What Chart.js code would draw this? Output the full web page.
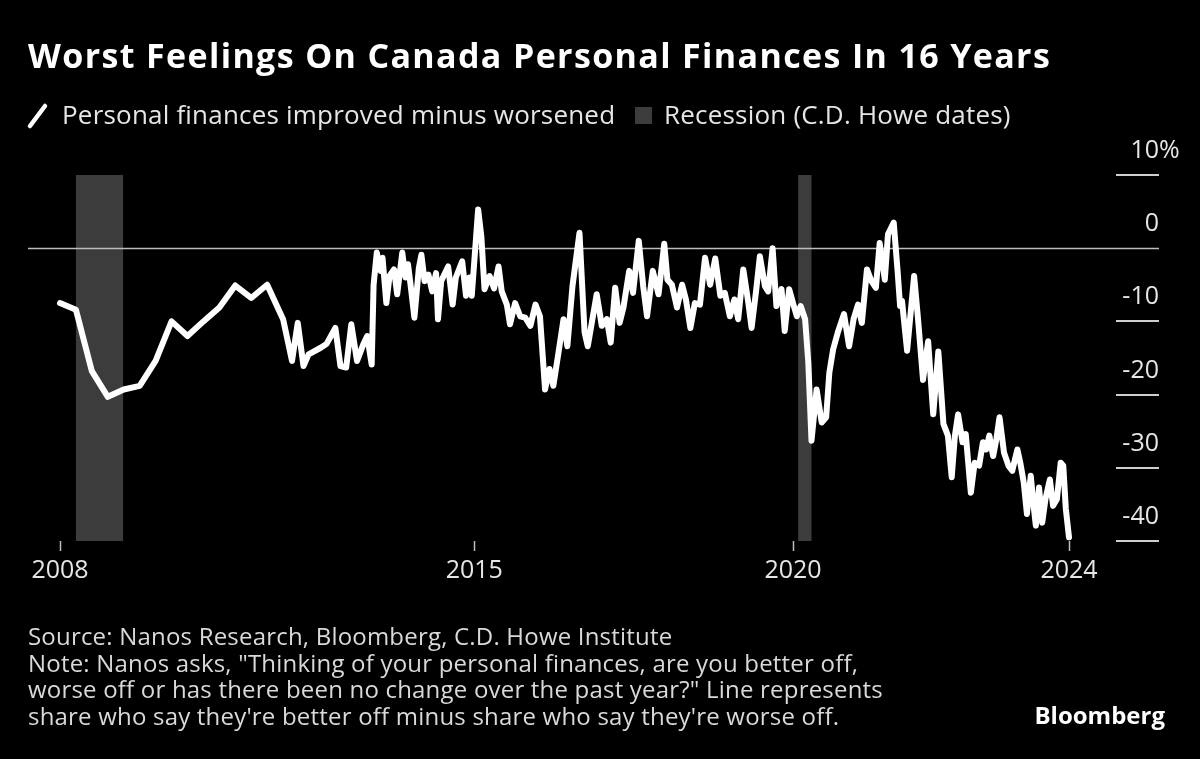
<!DOCTYPE html>
<html>
<head>
<meta charset="utf-8">
<script src="https://cdn.jsdelivr.net/npm/chart.js@4.4.0/dist/chart.umd.min.js"></script>
<style>
  html, body { margin: 0; padding: 0; background: #000; }
  body { width: 1200px; height: 759px; position: relative; overflow: hidden; font-family: "Open Sans", sans-serif; }
  #chart { position: absolute; left: 0; top: 0; }
  .abs { position: absolute; white-space: nowrap; }
  #title { left: 28px; top: 38px; font-size: 34px; line-height: 34px; font-weight: 700; color: #fff; }
  .legend { top: 101px; font-size: 26px; line-height: 26px; letter-spacing: 0.2px; color: #e6e6e6; }
  #swatch { left: 635px; top: 107px; width: 17px; height: 17px; background: #3c3c3c; }
  #footer { left: 28px; top: 623px; font-size: 24px; line-height: 26.7px; letter-spacing: 0.2px; color: #d9d9d9; }
  #brand { right: 35px; top: 703px; font-size: 24px; line-height: 24px; font-weight: 700; color: #fff; }
</style>
</head>
<body>
<canvas id="chart" width="1200" height="759"></canvas>
<div id="title" class="abs">Worst Feelings On Canada Personal Finances In 16 Years</div>
<svg class="abs" style="left:26px;top:102px" width="24" height="28"><line x1="4" y1="24" x2="19" y2="4" stroke="#fff" stroke-width="4.5" stroke-linecap="round"/></svg>
<div class="abs legend" style="left:62px">Personal finances improved minus worsened</div>
<div id="swatch" class="abs"></div>
<div class="abs legend" style="left:664px">Recession (C.D. Howe dates)</div>
<div id="footer" class="abs">Source: Nanos Research, Bloomberg, C.D. Howe Institute<br>Note: Nanos asks, "Thinking of your personal finances, are you better off,<br>worse off or has there been no change over the past year?" Line represents<br>share who say they're better off minus share who say they're worse off.</div>
<div id="brand" class="abs">Bloomberg</div>

<script>
// decimal years (early data is quarterly, later samples)
const dates = [
  2008.5, 2008.75, 2009.0, 2009.25, 2009.5, 2009.75, 2010.0, 2010.25, 2010.5, 2010.75, 2011.0, 2011.25, 2011.5, 2011.75, 2012.0,
  2012.14, 2012.23, 2012.32, 2012.40, 2012.59, 2012.68, 2012.82, 2012.90, 2012.99, 2013.07, 2013.16, 2013.26, 2013.32, 2013.39,
  2013.42, 2013.47, 2013.53, 2013.56, 2013.62, 2013.67, 2013.74, 2013.79, 2013.87, 2013.92, 2013.96,
  2014.00, 2014.06, 2014.13, 2014.17, 2014.22, 2014.28, 2014.34, 2014.40, 2014.43, 2014.48, 2014.59, 2014.66, 2014.71,
  2014.81, 2014.87, 2014.92, 2014.96,
  2015.06, 2015.11, 2015.16, 2015.24, 2015.31, 2015.38, 2015.43, 2015.51, 2015.56, 2015.64, 2015.72, 2015.80, 2015.88, 2015.96,
  2016.03, 2016.11, 2016.18, 2016.24, 2016.32, 2016.40, 2016.46, 2016.54, 2016.65, 2016.73, 2016.78, 2016.92,
  2017.00, 2017.08, 2017.14, 2017.21, 2017.28, 2017.34, 2017.43, 2017.49, 2017.58, 2017.65, 2017.71, 2017.80, 2017.89, 2017.98,
  2018.03, 2018.10, 2018.18, 2018.26, 2018.32, 2018.39, 2018.46, 2018.54, 2018.62, 2018.70, 2018.78, 2018.86, 2018.93,
  2019.01, 2019.08, 2019.14, 2019.22, 2019.30, 2019.35, 2019.42, 2019.48, 2019.56, 2019.61, 2019.68, 2019.74, 2019.82, 2019.87, 2019.94,
  2020.00, 2020.06, 2020.12, 2020.19, 2020.24, 2020.29, 2020.37, 2020.45, 2020.52, 2020.57, 2020.63, 2020.71, 2020.80, 2020.88, 2020.95,
  2021.02, 2021.08, 2021.16, 2021.23, 2021.30, 2021.36, 2021.44, 2021.49, 2021.58, 2021.64, 2021.68, 2021.71, 2021.79, 2021.90, 2021.96,
  2022.04, 2022.12, 2022.20, 2022.28, 2022.36, 2022.43, 2022.49, 2022.54, 2022.59, 2022.66, 2022.71, 2022.79, 2022.85, 2022.92, 2022.98,
  2023.03, 2023.08, 2023.14, 2023.19, 2023.24, 2023.31, 2023.38, 2023.44, 2023.52, 2023.57, 2023.62, 2023.67, 2023.73, 2023.78,
  2023.81, 2023.86, 2023.91, 2023.96,
  2024.03, 2024.08, 2024.14, 2024.20, 2024.24, 2024.28, 2024.33
];

// improved minus worsened, % points
const netFinances = [
  -7.5, -8.4, -16.8, -20.3, -19.3, -18.8, -15.4, -10.0, -12.0, -10.0, -8.1, -5.1, -6.8, -5.0, -9.7,
  -15.4, -10.2, -16.1, -14.5, -13.6, -13.1, -10.9, -16.1, -16.3, -10.4, -15.4, -13.1, -12.0, -15.9,
  -5.0, -0.6, -3.1, -1.3, -7.5, -3.8, -2.9, -6.3, -0.6, -4.0, -2.2,
  -5.0, -9.5, -2.7, -0.9, -4.5, -3.6, -5.9, -3.4, -9.7, -4.5, -2.5, -7.7, -4.0,
  -1.8, -6.5, -4.0, -6.5,
  5.3, 1.6, -5.6, -3.8, -5.5, -2.5, -5.9, -7.7, -10.4, -7.5, -9.3, -9.5, -10.6, -7.7,
  -9.3, -19.3, -16.5, -18.8, -14.3, -9.7, -13.4, -5.2, 2.1, -11.5, -13.4, -6.3,
  -10.6, -9.7, -12.9, -5.4, -10.2, -8.1, -3.1, -6.1, 1.0, -5.2, -9.3, -3.1, -6.3, 0.6,
  -4.3, -5.0, -8.1, -5.0, -7.0, -10.9, -7.5, -7.7, -1.3, -5.0, -1.4, -6.5, -6.1,
  -9.3, -7.0, -9.7, -2.9, -7.5, -10.9, -5.9, -1.1, -5.2, -5.9, 0.0, -7.9, -5.6, -11.3, -5.6,
  -7.5, -9.3, -7.9, -9.7, -15.6, -26.3, -19.3, -23.8, -23.1, -17.0, -13.8, -11.3, -9.0, -13.4, -9.7,
  -7.7, -10.2, -2.9, -4.5, -5.4, 0.7, -4.3, 1.9, 3.5, -3.0, -7.9, -7.2, -14.0, -3.8, -9.5,
  -18.0, -12.7, -22.7, -14.1, -24.0, -25.6, -31.3, -25.6, -22.7, -26.5, -25.4, -33.4, -29.3, -29.7, -26.5,
  -27.5, -25.6, -28.4, -26.1, -23.1, -27.9, -29.7, -30.4, -27.5, -29.5, -32.0, -36.3, -31.1, -35.6,
  -37.9, -32.7, -37.5, -34.3,
  -31.6, -35.2, -34.3, -29.3, -29.7, -35.6, -39.5
];

// C.D. Howe recession periods, start/end in decimal years
const recessionStart = [2008.75, 2020.08];
const recessionEnd = [2009.49, 2020.29];

const xTicks = [2008.5, 2015, 2020, 2024.33];
const xTickLabels = ['2008', '2015', '2020', '2024'];
const yTicks = [10, 0, -10, -20, -30, -40];
const yTickLabels = ['10', '0', '-10', '-20', '-30', '-40'];

const FONT = '"Open Sans", sans-serif';
const LABEL_RIGHT = 1159;

// stretch the headline to the reference width
const title = document.getElementById('title');
const titleGap = (1022 - title.offsetWidth) / (title.textContent.length - 1);
title.style.letterSpacing = titleGap.toFixed(2) + 'px';

// grey recession bands + zero line, under the data line
const backdrop = {
  id: 'backdrop',
  beforeDatasetsDraw(chart) {
    const { ctx, chartArea, scales: { x, y } } = chart;
    ctx.save();
    ctx.fillStyle = '#3c3c3c';
    recessionStart.forEach((s, i) => {
      const x0 = x.getPixelForValue(s), x1 = x.getPixelForValue(recessionEnd[i]);
      ctx.fillRect(x0, chartArea.top, x1 - x0, chartArea.bottom - chartArea.top);
    });
    const y0 = Math.round(y.getPixelForValue(0)) + 0.5;
    ctx.strokeStyle = '#bdbdbd';
    ctx.lineWidth = 1.5;
    ctx.beginPath();
    ctx.moveTo(28, y0);
    ctx.lineTo(LABEL_RIGHT, y0);
    ctx.stroke();
    ctx.restore();
  }
};

// right-hand value labels sitting on short rules
const yLabels = {
  id: 'yLabels',
  afterDraw(chart) {
    const { ctx, scales: { y } } = chart;
    ctx.save();
    ctx.font = '25px ' + FONT;
    ctx.fillStyle = '#e6e6e6';
    ctx.strokeStyle = '#cfcfcf';
    ctx.lineWidth = 2;
    ctx.textBaseline = 'alphabetic';
    yTicks.forEach((v, i) => {
      const py = Math.round(y.getPixelForValue(v));
      if (v !== 0) {
        ctx.beginPath();
        ctx.moveTo(1116, py);
        ctx.lineTo(LABEL_RIGHT, py);
        ctx.stroke();
      }
      ctx.textAlign = 'right';
      ctx.fillText(yTickLabels[i], LABEL_RIGHT, py - 17);
      if (i === 0) {
        ctx.textAlign = 'left';
        ctx.fillText('%', LABEL_RIGHT, py - 17);
      }
    });
    ctx.restore();
  }
};

const ctx = document.getElementById('chart').getContext('2d');
new Chart(ctx, {
  type: 'line',
  data: {
    datasets: [{
      data: dates.map((d, i) => ({ x: d, y: netFinances[i] })),
      borderColor: '#ffffff',
      borderWidth: 6,
      pointRadius: 0,
      tension: 0,
      borderJoinStyle: 'round',
      borderCapStyle: 'round',
      clip: false
    }]
  },
  options: {
    responsive: false,
    animation: false,
    layout: { padding: { left: 60, right: 131, top: 175, bottom: 158 } },
    plugins: { legend: { display: false }, tooltip: { enabled: false } },
    scales: {
      x: {
        type: 'linear',
        min: dates[0],
        max: dates[dates.length - 1],
        afterBuildTicks: s => { s.ticks = xTicks.map(v => ({ value: v })); },
        afterFit: s => { s.height = 60; },
        border: { display: false },
        grid: { drawOnChartArea: false, drawTicks: true, tickLength: 10, tickColor: '#bdbdbd', tickWidth: 1.5 },
        ticks: {
          callback: (v, i) => xTickLabels[i],
          autoSkip: false,
          maxRotation: 0,
          padding: 5,
          color: '#e6e6e6',
          font: { family: FONT, size: 25 }
        }
      },
      y: { min: -40, max: 10, display: false }
    }
  },
  plugins: [backdrop, yLabels]
});
</script>
</body>
</html>
